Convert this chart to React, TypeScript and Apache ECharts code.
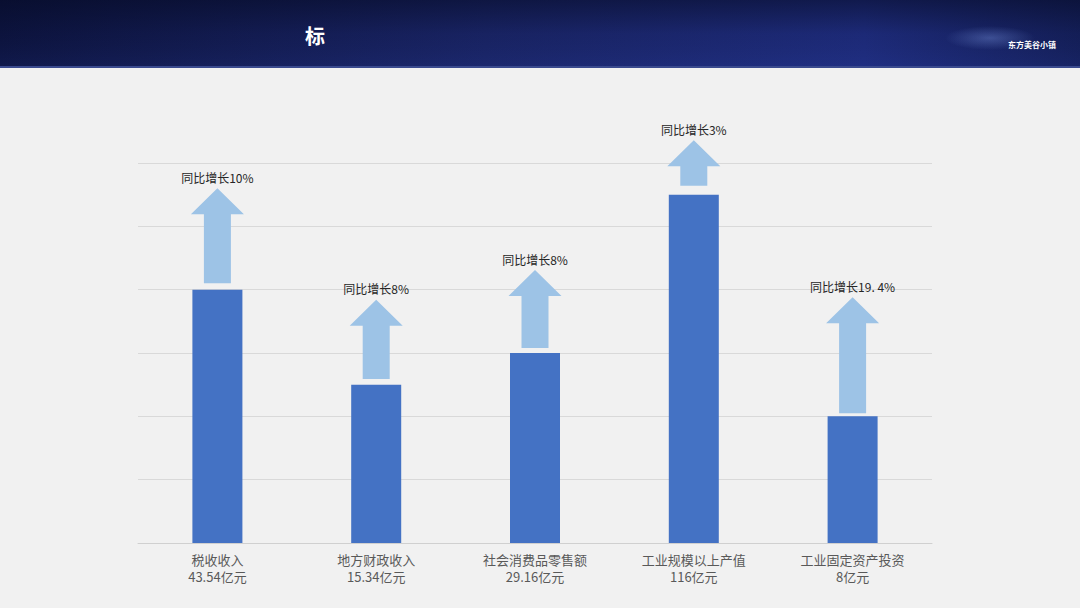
import React, { useEffect, useRef } from "react";
import * as echarts from "echarts";

const categories = ["税收收入", "地方财政收入", "社会消费品零售额", "工业规模以上产值", "工业固定资产投资"];
const amounts = ["43.54亿元", "15.34亿元", "29.16亿元", "116亿元", "8亿元"];
// visual bar heights on the slide's 6-band grid
const barHeights = [4, 2.5, 3, 5.5, 2];
// growth arrows: start and tip in grid units
const arrowStart = [4.1, 2.59, 3.08, 5.64, 2.05];
const arrowTip = [5.6, 3.84, 4.31, 6.36, 3.88];
const growthLabels = ["同比增长10%", "同比增长8%", "同比增长8%", "同比增长3%", "同比增长19. 4%"];

const FONT = "'Noto Sans CJK SC', 'Noto Sans', sans-serif";

export default function App() {
  const ref = useRef<HTMLDivElement>(null);
  useEffect(() => {
    document.body.style.margin = "0";
    const chart = echarts.init(ref.current!, null, { renderer: "svg" });
    const arrowData = categories.map((_, i) => [i, arrowStart[i], arrowTip[i], growthLabels[i]]);
    chart.setOption({
      animation: false,
      backgroundColor: "#f1f1f1",
      graphic: [
        {
          type: "rect",
          shape: { x: 0, y: 0, width: 1080, height: 68 },
          style: {
            fill: new echarts.graphic.LinearGradient(0, 0, 1, 0, [
              { offset: 0, color: "#0d1440" },
              { offset: 0.45, color: "#1a2568" },
              { offset: 0.8, color: "#1f2d80" },
              { offset: 1, color: "#15205c" },
            ]),
          },
          z: 0,
        },
        {
          type: "rect",
          shape: { x: 0, y: 0, width: 1080, height: 68 },
          style: {
            fill: new echarts.graphic.LinearGradient(0, 0, 0, 1, [
              { offset: 0, color: "rgba(5,10,35,0.55)" },
              { offset: 0.5, color: "rgba(5,10,35,0.1)" },
              { offset: 1, color: "rgba(40,60,150,0.15)" },
            ]),
          },
          z: 1,
        },
        {
          type: "rect",
          shape: { x: 0, y: 66, width: 1080, height: 2 },
          style: { fill: "#3a4a8e" },
          z: 2,
        },
        {
          type: "ellipse",
          shape: { cx: 990, cy: 38, rx: 45, ry: 12 },
          style: {
            fill: new echarts.graphic.RadialGradient(0.5, 0.5, 0.5, [
              { offset: 0, color: "rgba(130,160,235,0.35)" },
              { offset: 1, color: "rgba(130,160,235,0)" },
            ]),
          },
          z: 2,
        },
        {
          type: "text",
          x: 315,
          y: 35,
          style: {
            text: "标",
            fill: "#ffffff",
            font: `bold 20px ${FONT}`,
            align: "center",
            verticalAlign: "middle",
          },
          z: 3,
        },
        {
          type: "text",
          x: 1032,
          y: 44,
          style: {
            text: "东方美谷小镇",
            fill: "#ffffff",
            font: `bold 8px ${FONT}`,
            align: "center",
            verticalAlign: "middle",
          },
          z: 3,
        },
      ],
      grid: { left: 138, right: 148, top: 163, bottom: 65 },
      xAxis: {
        type: "category",
        data: categories,
        axisTick: { show: false },
        axisLine: { lineStyle: { color: "#d0d0d0", width: 1 } },
        axisLabel: {
          margin: 8,
          color: "#595959",
          fontFamily: FONT,
          fontSize: 13,
          lineHeight: 17,
          formatter: (v: string, i: number) => `${v}\n${amounts[i]}`,
        },
      },
      yAxis: {
        type: "value",
        min: 0,
        max: 6,
        interval: 1,
        axisLabel: { show: false },
        axisLine: { show: false },
        axisTick: { show: false },
        splitLine: { lineStyle: { color: "#d9d9d9", width: 1 } },
      },
      series: [
        {
          type: "bar",
          data: barHeights,
          barWidth: 50,
          itemStyle: { color: "#4472c4" },
          z: 2,
        },
        {
          type: "custom",
          clip: false,
          data: arrowData,
          z: 3,
          renderItem: (params: any, api: any) => {
            const i = api.value(0);
            const bottom = api.coord([i, api.value(1)]);
            const tip = api.coord([i, api.value(2)]);
            const cx = bottom[0];
            const headH = 26;
            const headW = 53;
            const shaftW = 27;
            const headBase = tip[1] + headH;
            const pts = [
              [cx - shaftW / 2, bottom[1]],
              [cx - shaftW / 2, headBase],
              [cx - headW / 2, headBase],
              [cx, tip[1]],
              [cx + headW / 2, headBase],
              [cx + shaftW / 2, headBase],
              [cx + shaftW / 2, bottom[1]],
            ];
            return {
              type: "group",
              children: [
                {
                  type: "polygon",
                  shape: { points: pts },
                  style: { fill: "#9dc3e6" },
                },
                {
                  type: "text",
                  x: cx,
                  y: tip[1] - 11,
                  style: {
                    text: growthLabels[i],
                    fill: "#262626",
                    font: `12px ${FONT}`,
                    align: "center",
                    verticalAlign: "middle",
                  },
                },
              ],
            };
          },
        },
      ],
    });
    return () => chart.dispose();
  }, []);
  return <div ref={ref} style={{ width: 1080, height: 608 }} />;
}
